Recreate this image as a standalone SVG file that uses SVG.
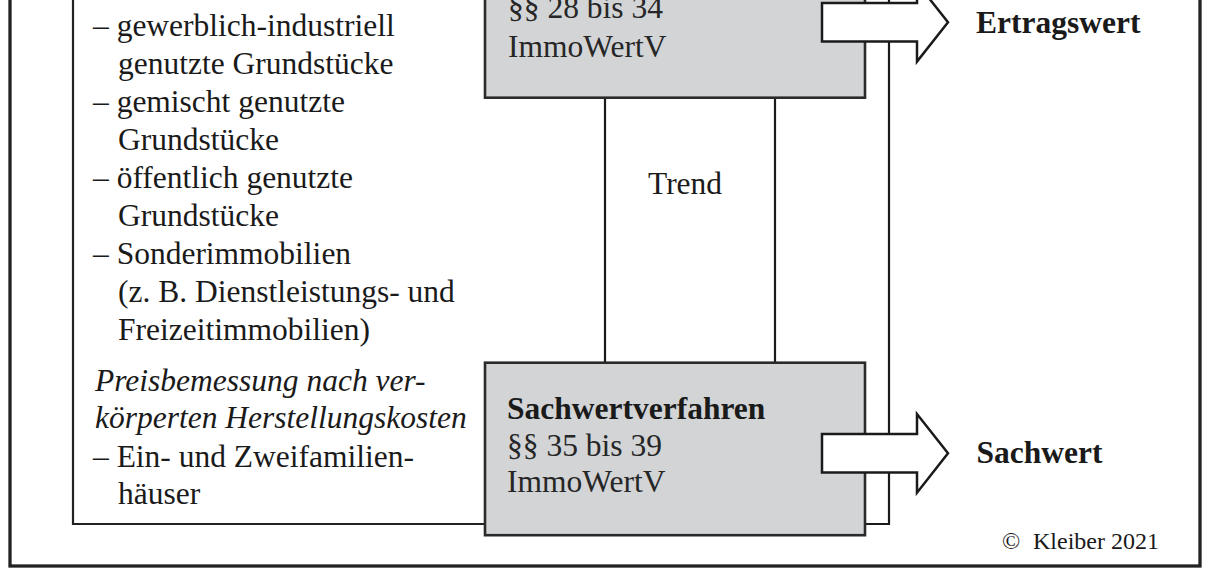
<svg xmlns="http://www.w3.org/2000/svg" width="1214" height="576" viewBox="0 0 1214 576">
  <style>
    text { font-family: "Liberation Serif", "Times New Roman", serif; font-size: 31.5px; fill: #1a1a1a; }
    .b { font-weight: bold; }
    .i { font-style: italic; }
    .g { fill: #262626; }
    .small { font-size: 24px; }
    .frame { fill: none; stroke: #222; stroke-width: 3.3; }
    .inner { fill: none; stroke: #222; stroke-width: 2.2; }
    .box { fill: #d2d4d6; stroke: #2a2a2a; stroke-width: 2.6; }
    .conn { fill: none; stroke: #1a1a1a; stroke-width: 2.2; }
    .arrow { fill: #ffffff; stroke: #1a1a1a; stroke-width: 2.5; stroke-linejoin: miter; }
  </style>
  <rect width="1214" height="576" fill="#ffffff"/>

  <g id="frame">
    <rect class="frame" x="10" y="-60" width="1190" height="626"/>
  </g>

  <g id="connectors">
    <line class="conn" x1="605" y1="97" x2="605" y2="363"/>
    <line class="conn" x1="775" y1="97" x2="775" y2="363"/>
    <path class="conn" d="M889,-20 V524 H865"/>
  </g>

  <g id="node-list">
    <path class="inner" d="M485,-60 H73 V524 H485"/>
    <text x="93" y="36">– gewerblich-industriell</text>
    <text x="118" y="74">genutzte Grundstücke</text>
    <text x="93" y="112">– gemischt genutzte</text>
    <text x="118" y="150">Grundstücke</text>
    <text x="93" y="188">– öffentlich genutzte</text>
    <text x="118" y="226">Grundstücke</text>
    <text x="93" y="264">– Sonderimmobilien</text>
    <text x="118" y="302">(z. B. Dienstleistungs- und</text>
    <text x="118" y="340">Freizeitimmobilien)</text>
    <text class="i" x="95" y="390.5">Preisbemessung nach ver-</text>
    <text class="i" x="95" y="428.3">körperten Herstellungskosten</text>
    <text x="93" y="466.5">– Ein- und Zweifamilien-</text>
    <text x="118" y="504">häuser</text>
  </g>

  <g id="node-ertragswertverfahren">
    <rect class="box" x="485" y="-60" width="380" height="157.7"/>
    <text class="g" x="508" y="18.3">§§ 28 bis 34</text>
    <text class="g" x="508" y="56.5">ImmoWertV</text>
  </g>

  <g id="node-sachwertverfahren">
    <rect class="box" x="485" y="362.7" width="380" height="172.5"/>
    <text class="b" x="507" y="419.3">Sachwertverfahren</text>
    <text class="g" x="507" y="455.5">§§ 35 bis 39</text>
    <text class="g" x="507" y="491.7">ImmoWertV</text>
  </g>

  <g id="arrows">
    <polygon class="arrow" points="822,3.1 917,3.1 917,-17 948,22.3 917,61.6 917,41.5 822,41.5"/>
    <polygon class="arrow" points="822,434 917,434 917,414 948,453.3 917,492.7 917,472.5 822,472.5"/>
  </g>

  <g id="node-ertragswert">
    <text class="b" x="976" y="33.3">Ertragswert</text>
  </g>

  <g id="node-sachwert">
    <text class="b" x="976.5" y="462.7">Sachwert</text>
  </g>

  <g id="node-trend">
    <text x="648" y="194">Trend</text>
  </g>

  <g id="copyright">
    <text class="small" y="549"><tspan x="1002">©</tspan><tspan x="1033">Kleiber 2021</tspan></text>
  </g>
</svg>
